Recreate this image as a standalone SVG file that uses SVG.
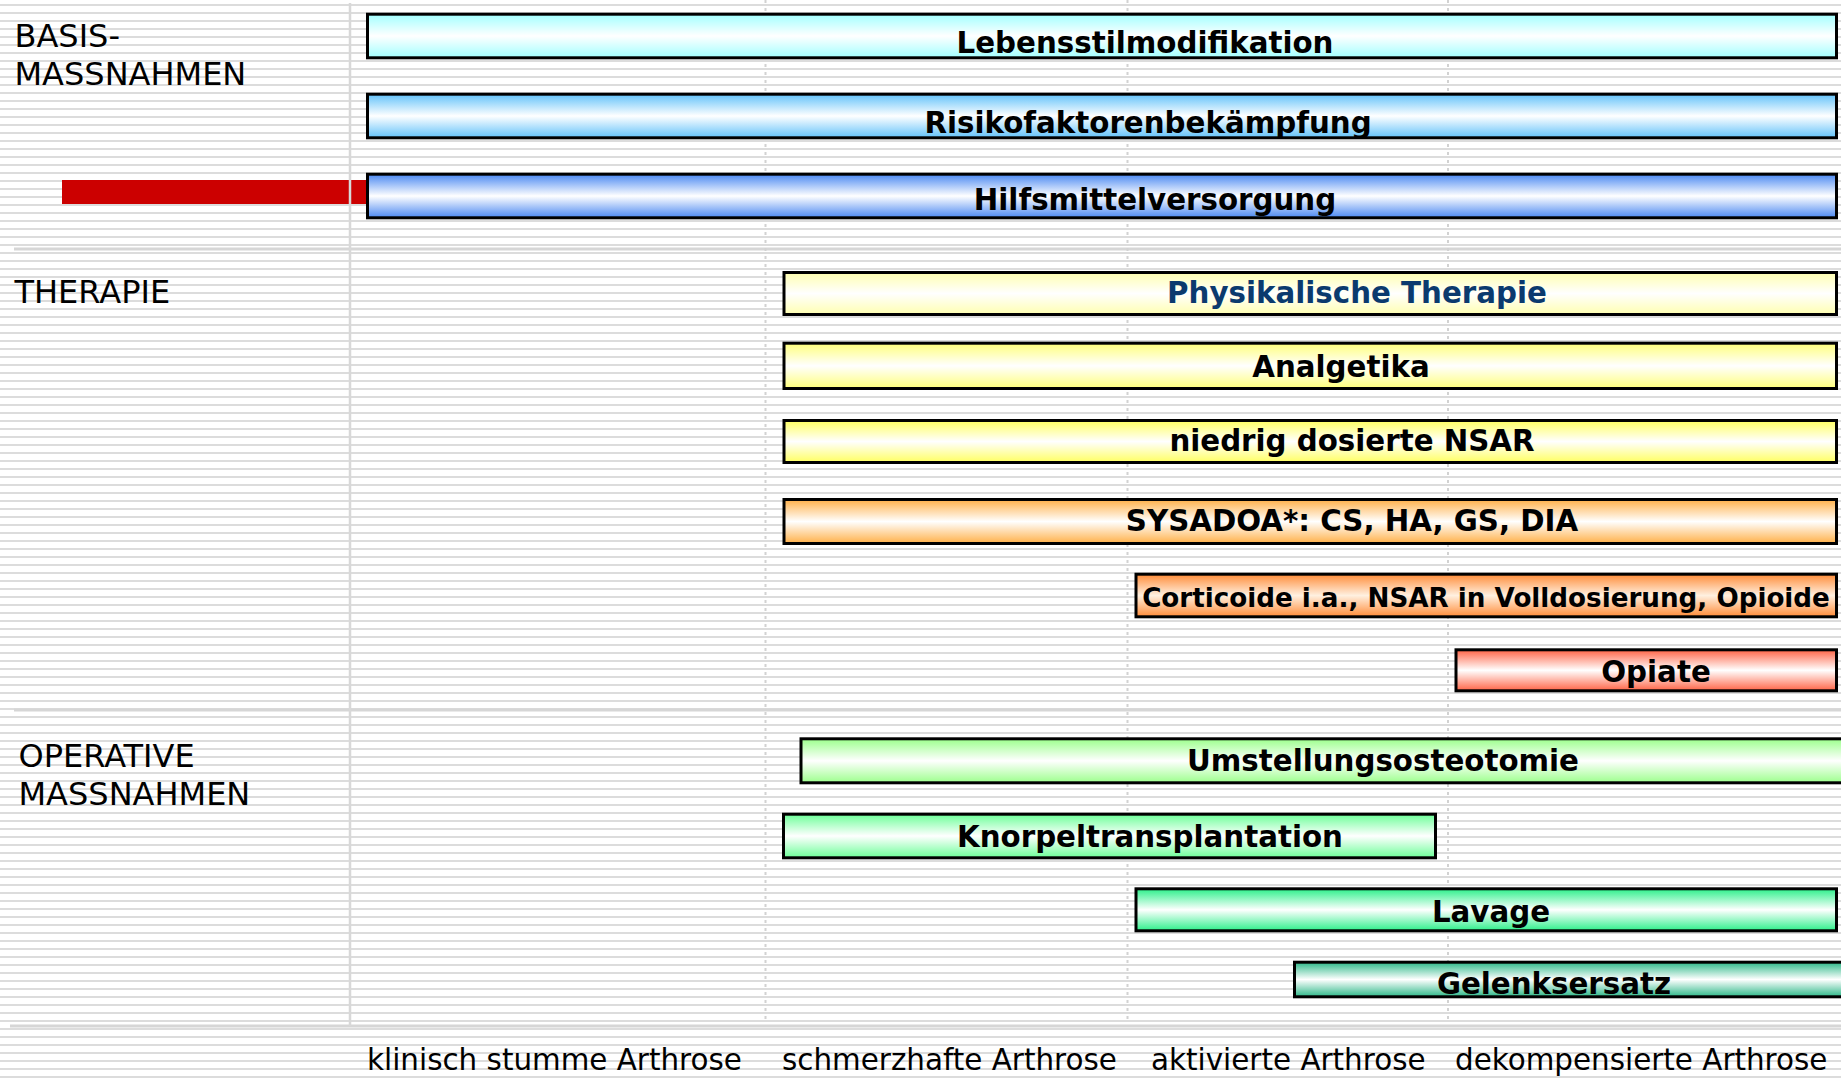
<svg xmlns="http://www.w3.org/2000/svg" width="1841" height="1078" viewBox="0 0 1841 1078">
<style>
.lbl{font-family:"DejaVu Sans","Noto Sans",sans-serif;font-size:32px;fill:#000}
.axis{font-family:"DejaVu Sans","Noto Sans",sans-serif;font-size:29.4px;fill:#000}
.bt{font-family:"DejaVu Sans","Noto Sans",sans-serif;font-weight:bold;font-size:29.3px;fill:#000;text-anchor:middle}
.bar{stroke:#000;stroke-width:3}
.sep{stroke:#d6d6d6;stroke-width:3}
.dot{stroke:#d2d2d2;stroke-width:2;stroke-dasharray:3 5}
</style>
<defs>
<pattern id="stripes" width="8" height="8" patternUnits="userSpaceOnUse"><rect x="0" y="4" width="8" height="2" fill="#dcdcdc"/></pattern>
<linearGradient id="gLeb" x1="0" y1="0" x2="0" y2="1"><stop offset="0" stop-color="#a2ffff"/><stop offset="0.5" stop-color="#ffffff"/><stop offset="1" stop-color="#a2ffff"/></linearGradient>
<linearGradient id="gRis" x1="0" y1="0" x2="0" y2="1"><stop offset="0" stop-color="#62c2fa"/><stop offset="0.5" stop-color="#ffffff"/><stop offset="1" stop-color="#62c2fa"/></linearGradient>
<linearGradient id="gHil" x1="0" y1="0" x2="0" y2="1"><stop offset="0" stop-color="#4a88f2"/><stop offset="0.5" stop-color="#ffffff"/><stop offset="1" stop-color="#4a88f2"/></linearGradient>
<linearGradient id="gPhy" x1="0" y1="0" x2="0" y2="1"><stop offset="0" stop-color="#ffffb0"/><stop offset="0.5" stop-color="#ffffff"/><stop offset="1" stop-color="#ffffb0"/></linearGradient>
<linearGradient id="gAna" x1="0" y1="0" x2="0" y2="1"><stop offset="0" stop-color="#ffff7a"/><stop offset="0.5" stop-color="#ffffff"/><stop offset="1" stop-color="#ffff7a"/></linearGradient>
<linearGradient id="gNsa" x1="0" y1="0" x2="0" y2="1"><stop offset="0" stop-color="#ffff60"/><stop offset="0.5" stop-color="#ffffff"/><stop offset="1" stop-color="#ffff60"/></linearGradient>
<linearGradient id="gSys" x1="0" y1="0" x2="0" y2="1"><stop offset="0" stop-color="#ffb048"/><stop offset="0.5" stop-color="#ffffff"/><stop offset="1" stop-color="#ffb048"/></linearGradient>
<linearGradient id="gCor" x1="0" y1="0" x2="0" y2="1"><stop offset="0" stop-color="#ff8c38"/><stop offset="0.5" stop-color="#fff0e0"/><stop offset="1" stop-color="#ff8c38"/></linearGradient>
<linearGradient id="gOpi" x1="0" y1="0" x2="0" y2="1"><stop offset="0" stop-color="#ff6446"/><stop offset="0.5" stop-color="#ffffff"/><stop offset="1" stop-color="#ff6446"/></linearGradient>
<linearGradient id="gUms" x1="0" y1="0" x2="0" y2="1"><stop offset="0" stop-color="#9cff8c"/><stop offset="0.5" stop-color="#ffffff"/><stop offset="1" stop-color="#9cff8c"/></linearGradient>
<linearGradient id="gKno" x1="0" y1="0" x2="0" y2="1"><stop offset="0" stop-color="#6cff98"/><stop offset="0.5" stop-color="#ffffff"/><stop offset="1" stop-color="#6cff98"/></linearGradient>
<linearGradient id="gLav" x1="0" y1="0" x2="0" y2="1"><stop offset="0" stop-color="#2cf08a"/><stop offset="0.5" stop-color="#ffffff"/><stop offset="1" stop-color="#2cf08a"/></linearGradient>
<linearGradient id="gGel" x1="0" y1="0" x2="0" y2="1"><stop offset="0" stop-color="#2cb888"/><stop offset="0.5" stop-color="#ffffff"/><stop offset="1" stop-color="#2cb888"/></linearGradient>
</defs>

<g id="background">
<rect x="0" y="0" width="1841" height="1078" fill="#ffffff"/>
<rect x="0" y="0" width="1841" height="1078" fill="url(#stripes)"/>
<line class="sep" x1="14" y1="249" x2="1841" y2="249"/>
<line class="sep" x1="14" y1="710" x2="1841" y2="710"/>
<line class="sep" x1="10" y1="1026" x2="1841" y2="1026"/>
<line class="dot" x1="765.5" y1="0" x2="765.5" y2="1024"/>
<line class="dot" x1="1127.5" y1="0" x2="1127.5" y2="1024"/>
<line class="dot" x1="1448" y1="0" x2="1448" y2="1024"/>
</g>

<g id="red-marker"><rect x="62" y="180" width="305" height="24" fill="#cc0000"/></g>
<g id="axis-line"><line x1="350" y1="3" x2="350" y2="1026" stroke="#d8d8d8" stroke-width="2.5"/></g>

<g id="section-labels">
<text class="lbl" x="14.5" y="47">BASIS-</text>
<text class="lbl" x="14.5" y="85">MASSNAHMEN</text>
<text class="lbl" x="14.5" y="303">THERAPIE</text>
<text class="lbl" x="18.5" y="767">OPERATIVE</text>
<text class="lbl" x="18.5" y="805">MASSNAHMEN</text>
</g>

<g id="stage-labels">
<text class="axis" x="367" y="1070">klinisch stumme Arthrose</text>
<text class="axis" x="782" y="1070">schmerzhafte Arthrose</text>
<text class="axis" x="1151" y="1070">aktivierte Arthrose</text>
<text class="axis" x="1455" y="1070">dekompensierte Arthrose</text>
</g>

<g id="lebensstil"><rect class="bar" x="367.5" y="14.2" width="1469" height="43.6" fill="url(#gLeb)"/><text class="bt" x="1145" y="53">Lebensstilmodifikation</text></g>
<g id="risiko"><rect class="bar" x="367.5" y="94.2" width="1469" height="43.6" fill="url(#gRis)"/><text class="bt" x="1148" y="133">Risikofaktorenbekämpfung</text></g>
<g id="hilfsmittel"><rect class="bar" x="367.5" y="174.2" width="1469" height="43.6" fill="url(#gHil)"/><text class="bt" x="1155" y="209.5">Hilfsmittelversorgung</text></g>

<g id="physikalisch"><rect class="bar" x="784" y="272.5" width="1052.5" height="42" fill="url(#gPhy)"/><text class="bt" x="1357" y="303" style="fill:#0b3a6e">Physikalische Therapie</text></g>
<g id="analgetika"><rect class="bar" x="784" y="343.2" width="1052.5" height="45.3" fill="url(#gAna)"/><text class="bt" x="1341" y="377">Analgetika</text></g>
<g id="nsar"><rect class="bar" x="784" y="420.5" width="1052.5" height="42" fill="url(#gNsa)"/><text class="bt" x="1352" y="451">niedrig dosierte NSAR</text></g>
<g id="sysadoa"><rect class="bar" x="784" y="499.5" width="1052.5" height="44" fill="url(#gSys)"/><text class="bt" x="1352" y="531">SYSADOA*: CS, HA, GS, DIA</text></g>
<g id="corticoide"><rect class="bar" x="1136" y="574.2" width="700.5" height="42.6" fill="url(#gCor)"/><text class="bt" x="1486" y="607" style="font-size:26.2px">Corticoide i.a., NSAR in Volldosierung, Opioide</text></g>
<g id="opiate"><rect class="bar" x="1456" y="649.8" width="380.5" height="41" fill="url(#gOpi)"/><text class="bt" x="1656" y="682">Opiate</text></g>

<g id="umstellung"><rect class="bar" x="801" y="738.8" width="1100" height="44" fill="url(#gUms)"/><text class="bt" x="1383" y="771">Umstellungsosteotomie</text></g>
<g id="knorpel"><rect class="bar" x="783.5" y="814.2" width="652" height="43.6" fill="url(#gKno)"/><text class="bt" x="1150" y="847">Knorpeltransplantation</text></g>
<g id="lavage"><rect class="bar" x="1136" y="888.8" width="700.5" height="42" fill="url(#gLav)"/><text class="bt" x="1491" y="922">Lavage</text></g>
<g id="gelenksersatz"><rect class="bar" x="1294.5" y="962.2" width="600" height="34.6" fill="url(#gGel)"/><text class="bt" x="1554" y="994">Gelenksersatz</text></g>
</svg>
